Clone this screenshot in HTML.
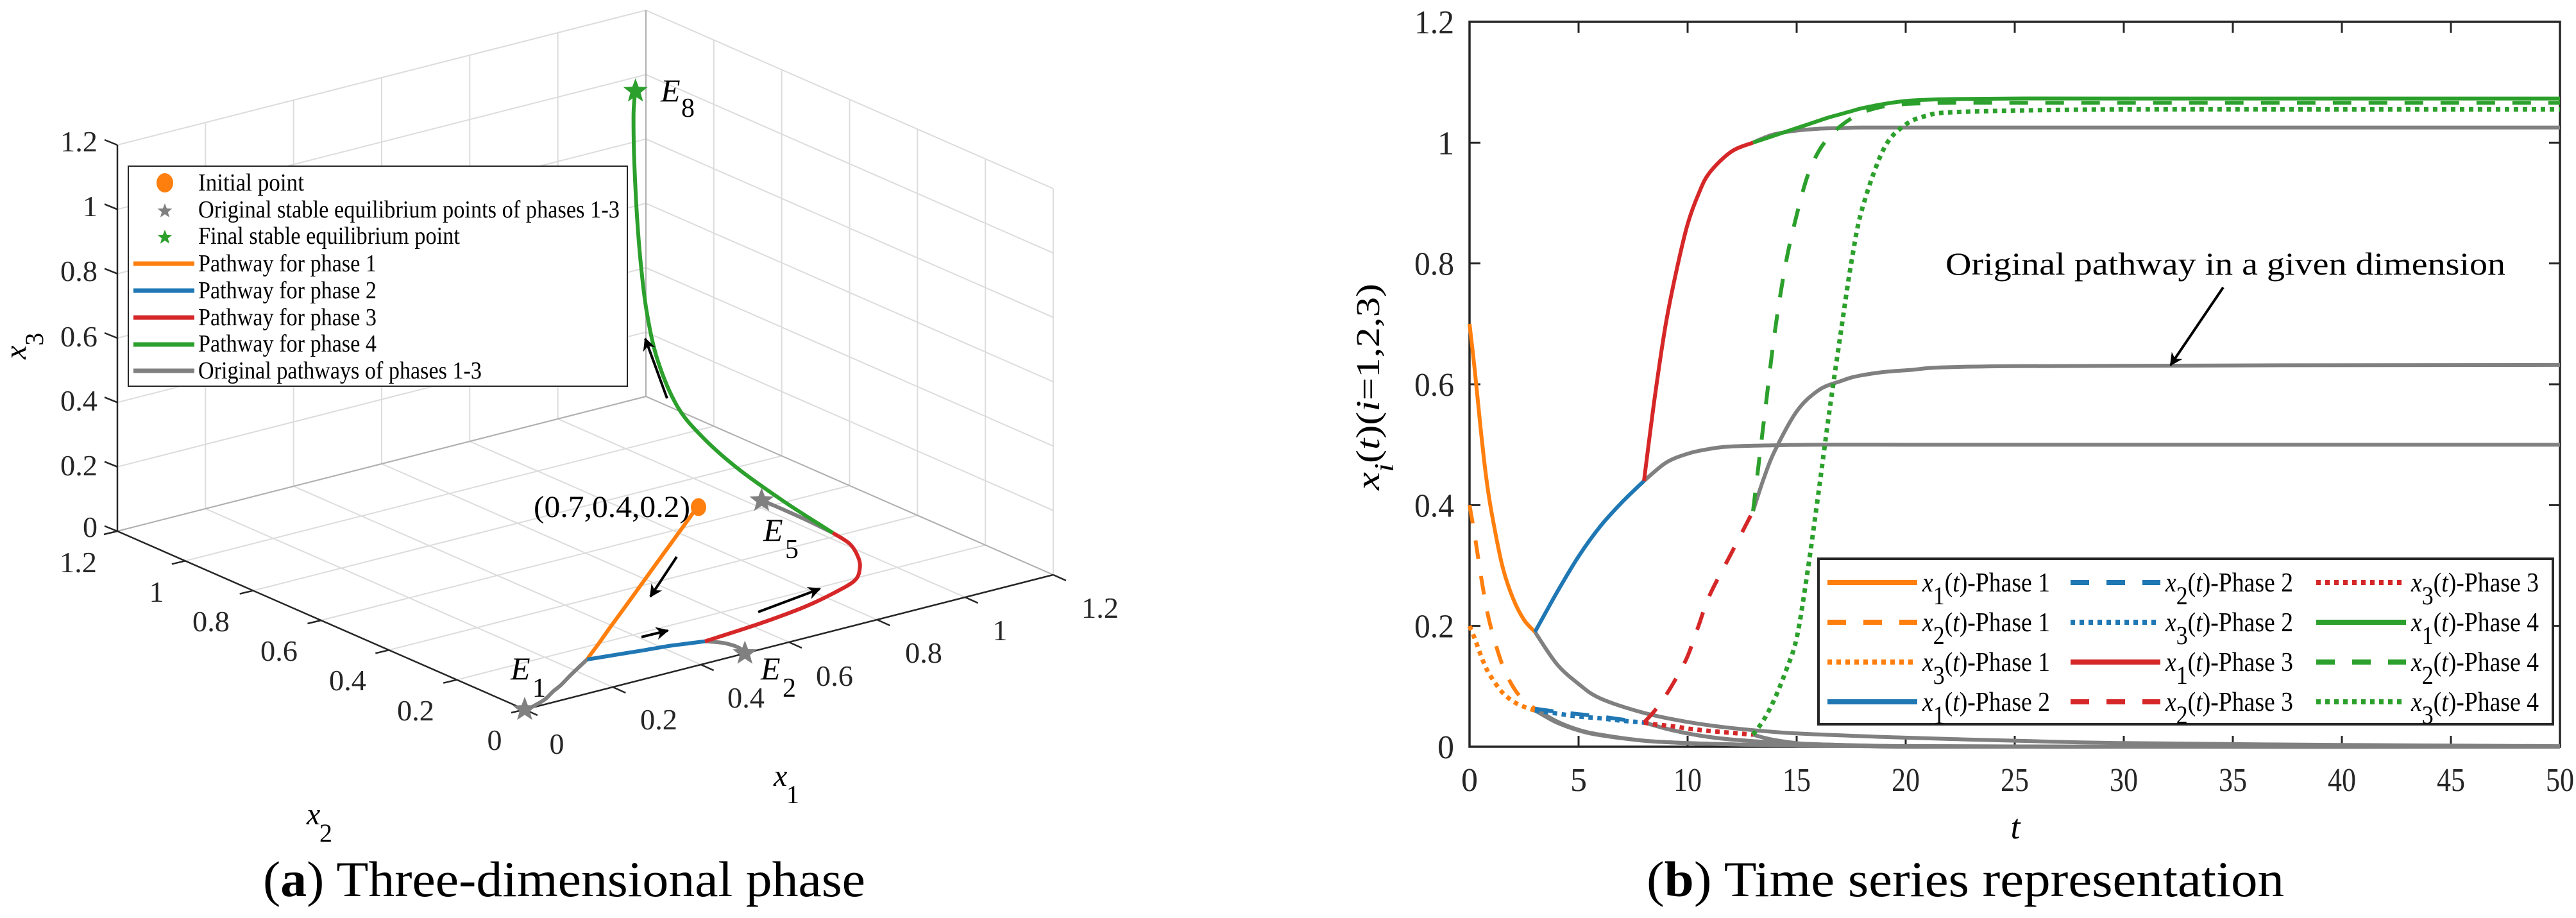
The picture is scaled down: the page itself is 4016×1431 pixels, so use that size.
<!DOCTYPE html>
<html><head><meta charset="utf-8"><title>Phase pathways</title>
<style>
html,body{margin:0;padding:0;background:#fff;}
svg{display:block;}
text{font-family:"Liberation Serif","DejaVu Serif",serif;fill:#000;}
.tk{font-size:52px;fill:#262626;}
.tk3{font-size:46px;fill:#262626;}
.it{font-style:italic;}
</style></head>
<body>
<svg id="fig" width="4016" height="1431" viewBox="0 0 4016 1431" xmlns="http://www.w3.org/2000/svg">
<defs>
<marker id="ah" viewBox="0 0 10 10" refX="9" refY="5" markerWidth="5" markerHeight="5" orient="auto-start-reverse"><path d="M0,0 L10,5 L0,10 L3,5 z" fill="#000"/></marker>
</defs>
<g id="left">
  <g id="grid3d"></g>
  <g id="axes3d"></g>
  <g id="curves3d"></g>
  <g>
    <text class="tk3" x="152" y="236" text-anchor="end" textLength="58" lengthAdjust="spacingAndGlyphs">1.2</text>
    <text class="tk3" x="152" y="337" text-anchor="end">1</text>
    <text class="tk3" x="152" y="438" text-anchor="end" textLength="58" lengthAdjust="spacingAndGlyphs">0.8</text>
    <text class="tk3" x="152" y="540" text-anchor="end" textLength="58" lengthAdjust="spacingAndGlyphs">0.6</text>
    <text class="tk3" x="152" y="640" text-anchor="end" textLength="58" lengthAdjust="spacingAndGlyphs">0.4</text>
    <text class="tk3" x="152" y="741" text-anchor="end" textLength="58" lengthAdjust="spacingAndGlyphs">0.2</text>
    <text class="tk3" x="152" y="837" text-anchor="end">0</text>
  </g>
  <g>
    <text class="tk3" x="122" y="892" text-anchor="middle" textLength="58" lengthAdjust="spacingAndGlyphs">1.2</text>
    <text class="tk3" x="244" y="938" text-anchor="middle">1</text>
    <text class="tk3" x="329" y="984" text-anchor="middle" textLength="58" lengthAdjust="spacingAndGlyphs">0.8</text>
    <text class="tk3" x="435" y="1030" text-anchor="middle" textLength="58" lengthAdjust="spacingAndGlyphs">0.6</text>
    <text class="tk3" x="542" y="1076" text-anchor="middle" textLength="58" lengthAdjust="spacingAndGlyphs">0.4</text>
    <text class="tk3" x="648" y="1123" text-anchor="middle" textLength="58" lengthAdjust="spacingAndGlyphs">0.2</text>
    <text class="tk3" x="771" y="1169" text-anchor="middle">0</text>
  </g>
  <g>
    <text class="tk3" x="868" y="1175" text-anchor="middle">0</text>
    <text class="tk3" x="1027" y="1137" text-anchor="middle" textLength="58" lengthAdjust="spacingAndGlyphs">0.2</text>
    <text class="tk3" x="1163" y="1103" text-anchor="middle" textLength="58" lengthAdjust="spacingAndGlyphs">0.4</text>
    <text class="tk3" x="1301" y="1069" text-anchor="middle" textLength="58" lengthAdjust="spacingAndGlyphs">0.6</text>
    <text class="tk3" x="1440" y="1033" text-anchor="middle" textLength="58" lengthAdjust="spacingAndGlyphs">0.8</text>
    <text class="tk3" x="1559" y="998" text-anchor="middle">1</text>
    <text class="tk3" x="1715" y="963" text-anchor="middle" textLength="58" lengthAdjust="spacingAndGlyphs">1.2</text>
  </g>
  <text x="1206" y="1225" font-size="48"><tspan class="it">x</tspan><tspan x="1226" y="1252" font-size="40">1</tspan></text>
  <text x="478" y="1285" font-size="48"><tspan class="it">x</tspan><tspan x="498" y="1312" font-size="40">2</tspan></text>
  <text transform="translate(40,560) rotate(-90)" font-size="48"><tspan class="it">x</tspan><tspan dy="27" font-size="40">3</tspan></text>
  <text x="832" y="806" font-size="48" textLength="244" lengthAdjust="spacingAndGlyphs">(0.7,0.4,0.2)</text>
  <text x="1030" y="158" font-size="50"><tspan class="it">E</tspan><tspan x="1062" y="182" font-size="42">8</tspan></text>
  <text x="1190" y="843" font-size="50"><tspan class="it">E</tspan><tspan x="1224" y="870" font-size="42">5</tspan></text>
  <text x="796" y="1059" font-size="50"><tspan class="it">E</tspan><tspan x="830" y="1086" font-size="42">1</tspan></text>
  <text x="1186" y="1059" font-size="50"><tspan class="it">E</tspan><tspan x="1220" y="1086" font-size="42">2</tspan></text>
  <g id="legend3d">
    <rect x="200" y="259" width="778" height="343" fill="#fff" stroke="#262626" stroke-width="2"/>
    <text x="309" y="297" font-size="38" textLength="165" lengthAdjust="spacingAndGlyphs">Initial point</text>
    <text x="309" y="339" font-size="38" textLength="657" lengthAdjust="spacingAndGlyphs">Original stable equilibrium points of phases 1-3</text>
    <text x="309" y="380" font-size="38" textLength="408" lengthAdjust="spacingAndGlyphs">Final stable equilibrium point</text>
    <text x="309" y="423" font-size="38" textLength="278" lengthAdjust="spacingAndGlyphs">Pathway for phase 1</text>
    <text x="309" y="465" font-size="38" textLength="278" lengthAdjust="spacingAndGlyphs">Pathway for phase 2</text>
    <text x="309" y="507" font-size="38" textLength="278" lengthAdjust="spacingAndGlyphs">Pathway for phase 3</text>
    <text x="309" y="548" font-size="38" textLength="278" lengthAdjust="spacingAndGlyphs">Pathway for phase 4</text>
    <text x="309" y="590" font-size="38" textLength="442" lengthAdjust="spacingAndGlyphs">Original pathways of phases 1-3</text>
    <ellipse cx="257" cy="285" rx="13" ry="15" fill="#ff7f0e"/>
    <line x1="208" y1="411" x2="303" y2="411" stroke="#ff7f0e" stroke-width="7"/>
    <line x1="208" y1="453" x2="303" y2="453" stroke="#1f77b4" stroke-width="7"/>
    <line x1="208" y1="495" x2="303" y2="495" stroke="#d62728" stroke-width="7"/>
    <line x1="208" y1="537" x2="303" y2="537" stroke="#2ca02c" stroke-width="7"/>
    <line x1="208" y1="578" x2="303" y2="578" stroke="#808080" stroke-width="7"/>
  </g>
  <text x="410" y="1397" font-size="78" textLength="939" lengthAdjust="spacingAndGlyphs">(<tspan font-weight="bold">a</tspan>) Three-dimensional phase</text>
</g>

<g id="right">
  <g id="axes2d"></g>
  <g id="curves2d"></g>
  <text transform="translate(2150,764) rotate(-90)" font-size="52" textLength="322" lengthAdjust="spacingAndGlyphs"><tspan class="it">x</tspan><tspan dy="22" class="it" font-size="42">i</tspan><tspan dy="-22">(</tspan><tspan class="it">t</tspan>)(<tspan class="it">i</tspan>=1,2,3)</text>
  <text class="it" x="3142" y="1307" font-size="54" text-anchor="middle">t</text>
  <text x="3033" y="428" font-size="50" textLength="873" lengthAdjust="spacingAndGlyphs">Original pathway in a given dimension</text>
  <line x1="3466" y1="448" x2="3384" y2="569" stroke="#000" stroke-width="4" marker-end="url(#ah)"/>
  <g id="legend2d">
    <rect x="2835" y="871" width="1145" height="258" fill="#fff" stroke="#262626" stroke-width="4"/>
  </g>
  <text x="2567" y="1397" font-size="78" textLength="994" lengthAdjust="spacingAndGlyphs">(<tspan font-weight="bold">b</tspan>) Time series representation</text>
</g>
</svg>
<script>
// ---------------- data (shared by both panels) ----------------
const tP1 = [0, 0.25, 0.5, 0.75, 1, 1.5, 2, 2.5, 3];
const x1P1 = [0.70, 0.62, 0.53, 0.45, 0.39, 0.30, 0.245, 0.21, 0.19];
const x2P1 = [0.40, 0.347, 0.288, 0.235, 0.195, 0.136, 0.099, 0.076, 0.063];
const x3P1 = [0.20, 0.178, 0.153, 0.131, 0.115, 0.09, 0.075, 0.066, 0.06];

const tP2 = [3, 4, 5, 6, 7, 8];
const x1P2 = [0.19, 0.255, 0.315, 0.365, 0.405, 0.44];
const x2P2 = [0.063, 0.058, 0.054, 0.05, 0.045, 0.04];
const x3P2 = [0.06, 0.055, 0.05, 0.047, 0.043, 0.04];

const tP3 = [8, 8.5, 9, 9.5, 10, 10.5, 11, 12, 13];
const x1P3 = [0.44, 0.58, 0.70, 0.79, 0.865, 0.915, 0.95, 0.985, 1.0];
const x2P3 = [0.04, 0.06, 0.085, 0.115, 0.15, 0.20, 0.25, 0.32, 0.39];
const x3P3 = [0.04, 0.037, 0.035, 0.033, 0.03, 0.028, 0.026, 0.023, 0.02];

const tP4 = [13, 13.5, 14, 14.5, 15, 15.5, 16, 16.5, 17, 17.5, 18, 19, 20, 21, 22, 25, 30, 40, 50];
const x1P4 = [1.0, 1.006, 1.012, 1.018, 1.024, 1.03, 1.036, 1.042, 1.047, 1.052, 1.057, 1.064, 1.069, 1.071, 1.072, 1.073, 1.073, 1.073, 1.073];
const x2P4 = [0.39, 0.54, 0.687, 0.80, 0.88, 0.945, 0.985, 1.01, 1.027, 1.04, 1.05, 1.06, 1.064, 1.065, 1.066, 1.066, 1.066, 1.066, 1.066];
const x3P4 = [0.02, 0.045, 0.08, 0.125, 0.18, 0.29, 0.42, 0.555, 0.68, 0.80, 0.89, 0.99, 1.03, 1.045, 1.05, 1.053, 1.055, 1.055, 1.055];

const tO1 = [3, 4, 5, 6, 8, 10, 12, 15, 20, 25, 30, 40, 50];
const x1O1 = [0.19, 0.137, 0.104, 0.080, 0.056, 0.041, 0.031, 0.022, 0.015, 0.01, 0.006, 0.003, 0.001];
const x2O1 = [0.063, 0.042, 0.028, 0.02, 0.01, 0.006, 0.004, 0.002, 0.001, 0, 0, 0, 0];
const x3O1 = [0.06, 0.04, 0.027, 0.019, 0.01, 0.006, 0.004, 0.002, 0.001, 0, 0, 0, 0];

const tO2 = [8, 9, 10, 11, 12, 14, 16, 20, 30, 50];
const x1O2 = [0.44, 0.47, 0.485, 0.493, 0.497, 0.499, 0.5, 0.5, 0.5, 0.5];
const x2O2 = [0.04, 0.03, 0.022, 0.016, 0.012, 0.007, 0.004, 0.001, 0, 0];
const x3O2 = [0.04, 0.03, 0.022, 0.016, 0.012, 0.007, 0.004, 0.001, 0, 0];

const tO3 = [13, 13.5, 14, 15, 16, 17, 18, 20, 25, 50];
const x1O3 = [1.0, 1.008, 1.014, 1.02, 1.023, 1.024, 1.025, 1.025, 1.025, 1.025];
const x2O3 = [0.39, 0.445, 0.49, 0.555, 0.59, 0.605, 0.615, 0.623, 0.63, 0.632];
const x3O3 = [0.02, 0.015, 0.011, 0.006, 0.003, 0.002, 0.001, 0, 0, 0];

const initialPoint = [0.7, 0.4, 0.2];
const eqE1 = [0, 0, 0];
const eqE2 = [0.5, 0, 0];
const eqE5 = [1.025, 0.632, 0];
const eqE8 = [1.073, 1.066, 1.055];

const axisTicks3d = [0, 0.2, 0.4, 0.6, 0.8, 1, 1.2];
const yTicks = [0, 0.2, 0.4, 0.6, 0.8, 1, 1.2];
const xTicks = [0, 5, 10, 15, 20, 25, 30, 35, 40, 45, 50];

// ---------------- helpers ----------------
const NS = 'http://www.w3.org/2000/svg';
const COL = {o:'#ff7f0e', b:'#1f77b4', r:'#d62728', g:'#2ca02c', k:'#808080'};
const DASH = {s:null, d:'29 27', p:'7 7'};
function mk(tag, parent){ const e=document.createElementNS(NS,tag); parent.appendChild(e); return e; }
function smooth(pts){
  let d='M'+pts[0][0].toFixed(1)+','+pts[0][1].toFixed(1);
  for(let i=0;i<pts.length-1;i++){
    const p0=pts[Math.max(0,i-1)],p1=pts[i],p2=pts[i+1],p3=pts[Math.min(pts.length-1,i+2)];
    const c1=[p1[0]+(p2[0]-p0[0])/6,p1[1]+(p2[1]-p0[1])/6];
    const c2=[p2[0]-(p3[0]-p1[0])/6,p2[1]-(p3[1]-p1[1])/6];
    d+=' C'+c1[0].toFixed(1)+','+c1[1].toFixed(1)+' '+c2[0].toFixed(1)+','+c2[1].toFixed(1)+' '+p2[0].toFixed(1)+','+p2[1].toFixed(1);
  }
  return d;
}
function star(cx,cy,R){
  let d='';
  for(let i=0;i<10;i++){const r=i%2?R*0.42:R;const a=-Math.PI/2+i*Math.PI/5;d+=(i?'L':'M')+(cx+r*Math.cos(a)).toFixed(1)+','+(cy+r*Math.sin(a)).toFixed(1);}
  return d+'Z';
}

// ---------------- 3D panel ----------------
const O=[818,1106], VB=[824,-210], VA=[-635,-278], VZ=602;
function P(a,b,c){ return [O[0]+a/1.2*VB[0]+b/1.2*VA[0], O[1]+a/1.2*VB[1]+b/1.2*VA[1]-c/1.2*VZ]; }
const g3=document.getElementById('grid3d');
function gl(p,q,name,col,w){
  const l=mk('line',g3);
  
  
  l.setAttribute('x1',p[0]);l.setAttribute('y1',p[1]);l.setAttribute('x2',q[0]);l.setAttribute('y2',q[1]);
  l.setAttribute('stroke',col||'#dcdcdc');l.setAttribute('stroke-width',w||2);
}
axisTicks3d.forEach(v=>{
  gl(P(v,0,0),P(v,1.2,0),'floor-grid-x1');
  gl(P(0,v,0),P(1.2,v,0),'floor-grid-x2');
  gl(P(v,1.2,0),P(v,1.2,1.2),'back-grid-x1');
  gl(P(0,1.2,v),P(1.2,1.2,v),'back-grid-x3');
  gl(P(1.2,v,0),P(1.2,v,1.2),'side-grid-x2');
  gl(P(1.2,0,v),P(1.2,1.2,v),'side-grid-x3');
});
gl(P(1.2,1.2,0),P(1.2,1.2,1.2),'back-edge','#b0b0b0',2);
gl(P(0,1.2,0),P(1.2,1.2,0),'back-floor-edge','#b0b0b0',2);
gl(P(1.2,0,0),P(1.2,1.2,0),'side-floor-edge','#b0b0b0',2);
const ax3=document.getElementById('axes3d');
function al(p,q,name){
  const l=mk('line',ax3);
  
  
  l.setAttribute('x1',p[0]);l.setAttribute('y1',p[1]);l.setAttribute('x2',q[0]);l.setAttribute('y2',q[1]);
  l.setAttribute('stroke','#262626');l.setAttribute('stroke-width',2.5);
}
al(P(0,1.2,0),P(0,1.2,1.2),'x3-axis-line');
al(P(0,0,0),P(0,1.2,0),'x2-axis-line');
al(P(0,0,0),P(1.2,0,0),'x1-axis-line');
axisTicks3d.forEach(v=>{
  const a=P(0,1.2,v); al(a,[a[0]-20,a[1]-8],'x3-tick');
  const b=P(0,v,0); al(b,[b[0]-21,b[1]+5],'x2-tick');
  const c=P(v,0,0); al(c,[c[0]+20,c[1]+9],'x1-tick');
});
const c3=document.getElementById('curves3d');
function path3(ts,a,b,c,col,name){
  const pts=ts.map((_,i)=>P(a[i],b[i],c[i]));
  const p=mk('path',c3);
  
  
  p.setAttribute('d',smooth(pts));p.setAttribute('fill','none');p.setAttribute('stroke',col);p.setAttribute('stroke-width',6);p.setAttribute('stroke-linecap','butt');
}
path3(tO1,x1O1,x2O1,x3O1,COL.k,'original-path-phase-1');
path3(tO2,x1O2,x2O2,x3O2,COL.k,'original-path-phase-2');
path3(tO3,x1O3,x2O3,x3O3,COL.k,'original-path-phase-3');
path3(tP1,x1P1,x2P1,x3P1,COL.o,'pathway-phase-1');
path3(tP2,x1P2,x2P2,x3P2,COL.b,'pathway-phase-2');
path3(tP3,x1P3,x2P3,x3P3,COL.r,'pathway-phase-3');
path3(tP4,x1P4,x2P4,x3P4,COL.g,'pathway-phase-4');
function starAt(pt,col,R,name,parent){
  const s=mk('path',parent);
  
  
  s.setAttribute('d',star(pt[0],pt[1],R));s.setAttribute('fill',col);
}
starAt(P(...eqE1),COL.k,20,'equilibrium-e1',c3);
starAt(P(...eqE2),COL.k,20,'equilibrium-e2',c3);
starAt(P(...eqE5),COL.k,20,'equilibrium-e5',c3);
starAt(P(...eqE8),COL.g,20,'equilibrium-e8',c3);
const ip=P(...initialPoint);
const ipc=mk('ellipse',c3);


ipc.setAttribute('cx',ip[0]+2);ipc.setAttribute('cy',ip[1]);ipc.setAttribute('rx',12);ipc.setAttribute('ry',14);ipc.setAttribute('fill',COL.o);
[[1055,868,1014,930],[1000,993,1041,983],[1182,954,1278,918],[1040,621,1006,528]].forEach(a=>{
  const l=mk('line',c3);
  
  
  l.setAttribute('x1',a[0]);l.setAttribute('y1',a[1]);l.setAttribute('x2',a[2]);l.setAttribute('y2',a[3]);
  l.setAttribute('stroke','#000');l.setAttribute('stroke-width',4);l.setAttribute('marker-end','url(#ah)');
});
const lg3=document.getElementById('legend3d');
starAt([257,329],COL.k,12,'legend-gray-star',lg3);
starAt([257,370],COL.g,12,'legend-green-star',lg3);

// ---------------- time-series panel ----------------
const X0=2291, X1=3991, Y0=1164, Y1=34;
const sx=t=>X0+t/50*(X1-X0);
const sy=v=>Y0-v/1.2*(Y0-Y1);
const ax2=document.getElementById('axes2d');
const fr=mk('rect',ax2);


fr.setAttribute('x',X0);fr.setAttribute('y',Y1);fr.setAttribute('width',X1-X0);fr.setAttribute('height',Y0-Y1);fr.setAttribute('fill','none');fr.setAttribute('stroke','#262626');fr.setAttribute('stroke-width',3.5);
function tl(x1,y1,x2,y2,name){
  const l=mk('line',ax2);
  
  
  l.setAttribute('x1',x1);l.setAttribute('y1',y1);l.setAttribute('x2',x2);l.setAttribute('y2',y2);l.setAttribute('stroke','#262626');l.setAttribute('stroke-width',3);
}
yTicks.forEach(v=>{
  const y=sy(v);
  tl(X0,y,X0+17,y,'y-tick');tl(X1,y,X1-17,y,'y-tick-right');
  const t=mk('text',ax2);
  
  
  t.setAttribute('class','tk');t.setAttribute('x',X0-24);t.setAttribute('y',y+18);t.setAttribute('text-anchor','end');
  t.textContent=String(v);
  if(String(v).length>1){t.setAttribute('textLength',62);t.setAttribute('lengthAdjust','spacingAndGlyphs');}
});
xTicks.forEach(v=>{
  const x=sx(v);
  tl(x,Y0,x,Y0-17,'x-tick');tl(x,Y1,x,Y1+17,'x-tick-top');
  const t=mk('text',ax2);
  
  
  t.setAttribute('class','tk');t.setAttribute('x',x);t.setAttribute('y',1233);t.setAttribute('text-anchor','middle');
  t.textContent=String(v);
  if(String(v).length>1){t.setAttribute('textLength',44);t.setAttribute('lengthAdjust','spacingAndGlyphs');}
});
const c2=document.getElementById('curves2d');
function series(ts,vals,col,style,name){
  const pts=ts.map((t,i)=>[sx(t),sy(vals[i])]);
  const p=mk('path',c2);
  
  
  p.setAttribute('d',smooth(pts));p.setAttribute('fill','none');p.setAttribute('stroke',col);
  p.setAttribute('stroke-width',style==='p'?7:6);
  if(DASH[style]) p.setAttribute('stroke-dasharray',DASH[style]);
}
series(tO1,x1O1,COL.k,'s','orig-x1-phase1');series(tO1,x2O1,COL.k,'s','orig-x2-phase1');series(tO1,x3O1,COL.k,'s','orig-x3-phase1');
series(tO2,x1O2,COL.k,'s','orig-x1-phase2');series(tO2,x2O2,COL.k,'s','orig-x2-phase2');series(tO2,x3O2,COL.k,'s','orig-x3-phase2');
series(tO3,x1O3,COL.k,'s','orig-x1-phase3');series(tO3,x2O3,COL.k,'s','orig-x2-phase3');series(tO3,x3O3,COL.k,'s','orig-x3-phase3');
series(tP1,x1P1,COL.o,'s','x1-phase1');series(tP1,x2P1,COL.o,'d','x2-phase1');series(tP1,x3P1,COL.o,'p','x3-phase1');
series(tP2,x1P2,COL.b,'s','x1-phase2');series(tP2,x2P2,COL.b,'d','x2-phase2');series(tP2,x3P2,COL.b,'p','x3-phase2');
series(tP3,x1P3,COL.r,'s','x1-phase3');series(tP3,x2P3,COL.r,'d','x2-phase3');series(tP3,x3P3,COL.r,'p','x3-phase3');
series(tP4,x1P4,COL.g,'s','x1-phase4');series(tP4,x2P4,COL.g,'d','x2-phase4');series(tP4,x3P4,COL.g,'p','x3-phase4');

// legend
const lg=document.getElementById('legend2d');
const legItems=[['o','s',1,1],['o','d',2,1],['o','p',3,1],['b','s',1,2],['b','d',2,2],['b','p',3,2],['r','s',1,3],['r','d',2,3],['r','p',3,3],['g','s',1,4],['g','d',2,4],['g','p',3,4]];
const colX=[2849,3228,3611], rowY=[908,970,1032,1094];
legItems.forEach((it,i)=>{
  const c=Math.floor(i/4), r=i%4, x=colX[c], y=rowY[r];
  const l=mk('line',lg);
  
  
  l.setAttribute('x1',x);l.setAttribute('y1',y);l.setAttribute('x2',x+140);l.setAttribute('y2',y);
  l.setAttribute('stroke',COL[it[0]]);l.setAttribute('stroke-width',8);
  if(DASH[it[1]]) l.setAttribute('stroke-dasharray',DASH[it[1]]);
  const t=mk('text',lg);
  
  
  t.setAttribute('x',x+148);t.setAttribute('y',y+14);t.setAttribute('font-size',42);
  t.innerHTML='<tspan font-style="italic">x</tspan><tspan dy="20" font-size="40">'+it[2]+'</tspan><tspan dy="-20">(</tspan><tspan font-style="italic">t</tspan>)-Phase '+it[3];
  t.setAttribute('textLength',199);t.setAttribute('lengthAdjust','spacingAndGlyphs');
});
</script>
</body></html>
